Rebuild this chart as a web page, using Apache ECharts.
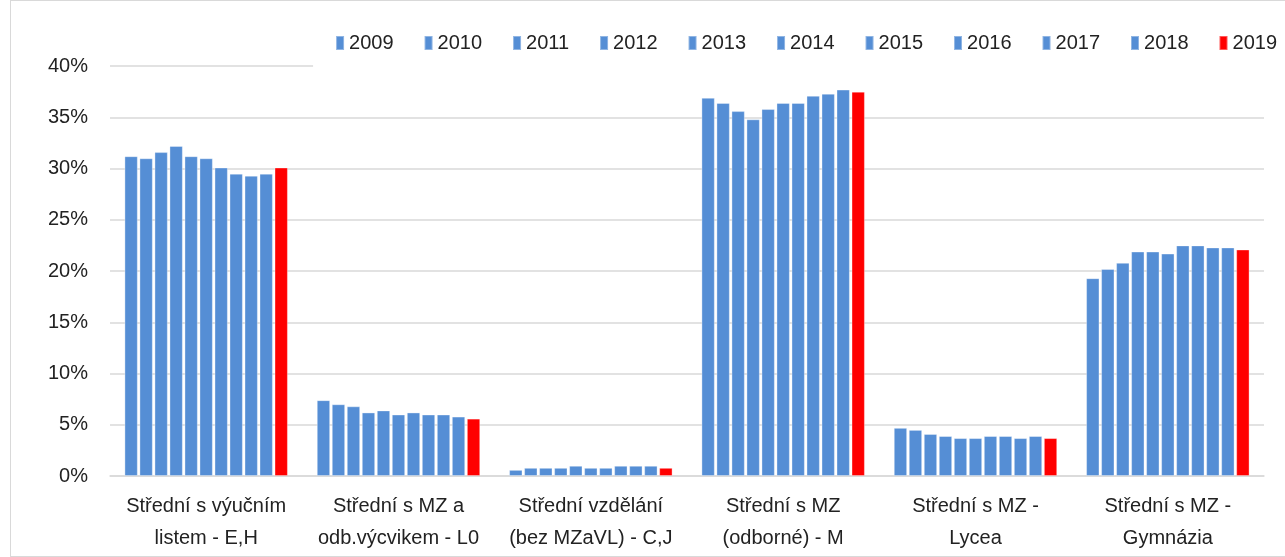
<!DOCTYPE html>
<html>
<head>
<meta charset="utf-8">
<script src="https://cdn.jsdelivr.net/npm/echarts@6/dist/echarts.min.js"></script>
<style>
  html, body { margin: 0; padding: 0; background: #fff; }
  #chart { position: absolute; left: 0; top: 0; width: 1285px; height: 557px; }
  #frame { position: absolute; left: 10px; top: 0; width: 1285px; height: 555px; border: 1px solid #d9d9d9; pointer-events: none; }
</style>
</head>
<body>
<div id="chart"></div>
<div id="frame"></div>
<script>
const categories = [
  'Střední s výučním\nlistem - E,H',
  'Střední s MZ a\nodb.výcvikem - L0',
  'Střední vzdělání\n(bez MZaVL) - C,J',
  'Střední s MZ\n(odborné) - M',
  'Střední s MZ -\nLycea',
  'Střední s MZ -\nGymnázia'
];
const years = ['2009', '2010', '2011', '2012', '2013', '2014', '2015', '2016', '2017', '2018', '2019'];
// podíl v % pro každý rok (pořadí = categories)
const v2009 = [31.2, 7.4, 0.6, 36.9, 4.7, 19.3];
const v2010 = [31.0, 7.0, 0.8, 36.4, 4.5, 20.2];
const v2011 = [31.6, 6.8, 0.8, 35.6, 4.1, 20.8];
const v2012 = [32.2, 6.2, 0.8, 34.8, 3.9, 21.9];
const v2013 = [31.2, 6.4, 1.0, 35.8, 3.7, 21.9];
const v2014 = [31.0, 6.0, 0.8, 36.4, 3.7, 21.7];
const v2015 = [30.1, 6.2, 0.8, 36.4, 3.9, 22.5];
const v2016 = [29.5, 6.0, 1.0, 37.1, 3.9, 22.5];
const v2017 = [29.3, 6.0, 1.0, 37.3, 3.7, 22.3];
const v2018 = [29.5, 5.8, 1.0, 37.7, 3.9, 22.3];
const v2019 = [30.1, 5.6, 0.8, 37.5, 3.7, 22.1];
const values = [v2009, v2010, v2011, v2012, v2013, v2014, v2015, v2016, v2017, v2018, v2019];

const blue = '#558ed5';
const red = '#ff0000';
const font = '"Liberation Sans", Arial, sans-serif';

const chart = echarts.init(document.getElementById('chart'));

const series = years.map((y, i) => ({
  name: y,
  type: 'bar',
  barGap: '12%',
  barCategoryGap: '15%',
  itemStyle: {
    color: i === years.length - 1 ? red : blue,
    borderColor: 'rgba(255,255,255,0.35)',
    borderWidth: 1
  },
  data: values[i]
}));

chart.setOption({
  animation: false,
  textStyle: { fontFamily: font },
  legend: {
    right: 3,
    top: 28,
    padding: [5, 5, 16, 22],
    backgroundColor: '#fff',
    icon: 'rect',
    itemWidth: 8,
    itemHeight: 14,
    itemGap: 30,
    textStyle: { color: '#222', fontSize: 20, fontFamily: font },
    data: years
  },
  grid: {
    left: 110,
    right: 21,
    top: 66,
    bottom: 81
  },
  xAxis: {
    type: 'category',
    data: categories,
    axisTick: { show: false },
    axisLine: { lineStyle: { color: '#d9d9d9', width: 1.5 } },
    axisLabel: {
      color: '#222',
      fontSize: 20,
      fontFamily: font,
      lineHeight: 32,
      margin: 14,
      interval: 0
    }
  },
  yAxis: {
    type: 'value',
    min: 0,
    max: 40,
    interval: 5,
    axisLine: { show: false },
    axisTick: { show: false },
    splitLine: { lineStyle: { color: '#d9d9d9', width: 1.5 } },
    axisLabel: {
      formatter: '{value}%',
      color: '#222',
      fontSize: 20,
      fontFamily: font,
      margin: 22
    }
  },
  series: series
});
</script>
</body>
</html>
